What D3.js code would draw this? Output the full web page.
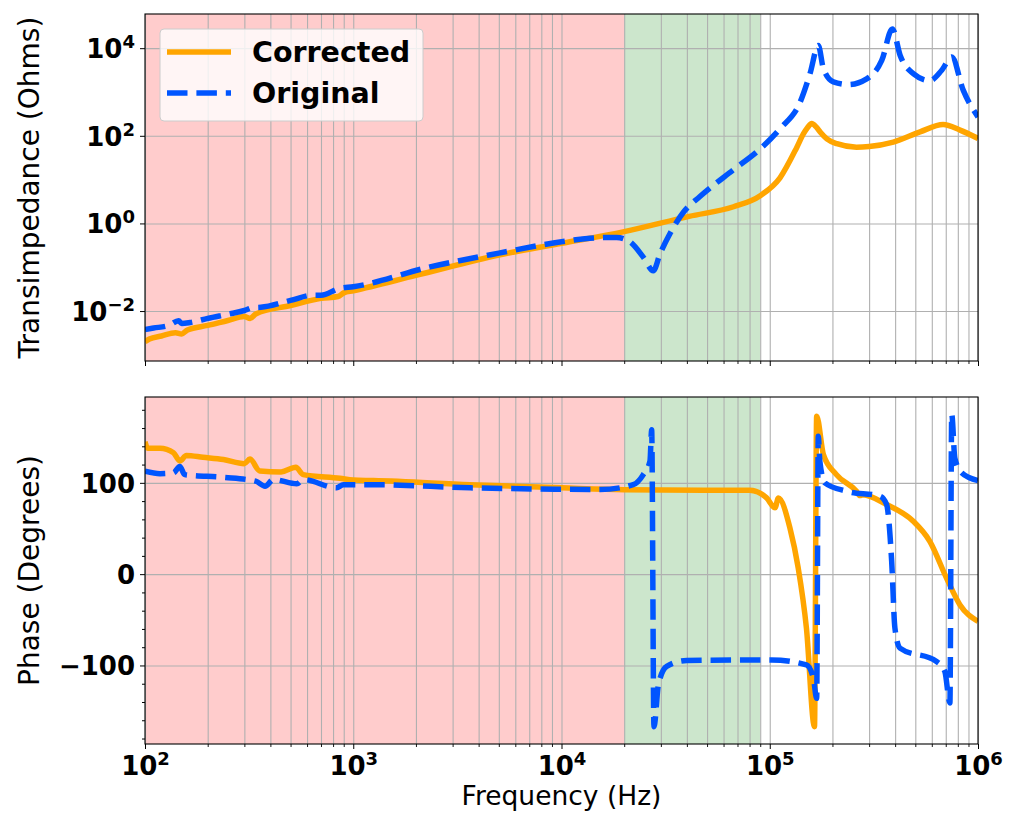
<!DOCTYPE html>
<html>
<head>
<meta charset="utf-8">
<script src="https://cdn.jsdelivr.net/npm/d3@7"></script>
<style>
body { margin: 0; background: #fff; }
text { font-family: 'DejaVu Sans', sans-serif; }
</style>
</head>
<body>
<svg id="wrapper" width="1016" height="816"></svg>
<script>
// values (frequency in Hz)
var corrMagFreq = [100, 105, 120, 140, 150, 160, 200, 250, 300, 320, 340, 500, 700, 845, 900, 1000, 2000, 5000, 1e4, 2e4, 4.1e4, 6.7e4, 9e4, 1.12e5, 1.35e5, 1.45e5, 1.52e5, 1.59e5, 1.67e5, 1.75e5, 1.88e5, 2.1e5, 2.61e5, 3.0e5, 3.92e5, 5.27e5, 6.8e5, 8.2e5, 1e6]
var corrMag = [0.0020, 0.0023, 0.0027, 0.0032, 0.0030, 0.0037, 0.0047, 0.0061, 0.0075, 0.0068, 0.0086, 0.0134, 0.0195, 0.0215, 0.026, 0.029, 0.065, 0.19, 0.35, 0.65, 1.45, 2.4, 4.3, 11, 55, 110, 155, 190, 160, 120, 85, 66, 55, 57, 72, 123, 180, 135, 87]

var origMagFreq = [100, 110, 130, 145, 150, 165, 200, 260, 300, 330, 360, 500, 640, 700, 860, 1000, 2340, 5000, 1e4, 1.37e4, 1.84e4, 2.13e4, 2.47e4, 2.76e4, 2.97e4, 3.32e4, 3.85e4, 4.62e4, 6.68e4, 8.9e4, 1.12e5, 1.4e5, 1.56e5, 1.71e5, 1.81e5, 2.02e5, 2.38e5, 2.92e5, 3.45e5, 3.88e5, 4.23e5, 4.89e5, 5.87e5, 6.68e5, 7.48e5, 8.49e5, 1e6]
var origMag = [0.0038, 0.0041, 0.0047, 0.0060, 0.0052, 0.0055, 0.0068, 0.0088, 0.0103, 0.012, 0.0122, 0.0175, 0.023, 0.023, 0.033, 0.036, 0.102, 0.21, 0.38, 0.46, 0.48, 0.38, 0.17, 0.083, 0.2, 0.59, 1.8, 4.1, 16.6, 48, 145, 590, 2600, 11500, 3400, 1700, 1480, 2000, 5250, 27500, 6800, 2630, 1820, 3090, 6300, 1100, 270]

var corrPhFreq = [100, 103, 118, 137, 147, 158, 190, 238, 300, 319, 356, 450, 530, 575, 863, 1000, 1250, 3640, 1e4, 2e4, 5e4, 8e4, 9.66e4, 1.06e5, 1.1e5, 1.25e5, 1.37e5, 1.5e5, 1.64e5, 1.68e5, 1.81e5, 2.09e5, 2.61e5, 2.71e5, 2.8e5, 3.64e5, 4.89e5, 5.87e5, 7.06e5, 8.18e5, 1e6]
var corrPhase = [145, 138, 138, 133, 124, 130, 128, 125.5, 121, 126, 113, 112, 117, 109, 105, 103, 102.5, 98, 94.5, 92.5, 92, 91.9, 83.5, 72.6, 83.5, 50.6, 6.7, -59, -167, 173, 131, 109, 90.8, 86, 87, 76.2, 57.9, 35.9, -4.3, -33.4, -51.7]

var origPhFreq = [100, 118, 137, 147, 155, 238, 340, 377, 413, 536, 575, 832, 895, 1250, 3640, 1e4, 1.53e4, 2.21e4, 2.47e4, 2.66e4, 2.71e4, 2.78e4, 2.92e4, 3.2e4, 3.99e4, 1.02e5, 1.5e5, 1.62e5, 1.68e5, 1.71e5, 1.74e5, 1.84e5, 2.34e5, 3.38e5, 3.64e5, 3.85e5, 3.99e5, 4.22e5, 6.32e5, 6.93e5, 7.33e5, 7.48e5, 7.74e5, 8.34e5, 1e6]
var origPhase = [112.7, 110, 111, 118, 109, 106, 101.8, 96.3, 103.6, 98.9, 103.6, 94.5, 98, 98, 94.5, 93, 92.6, 98, 109, 123.7, 158, -167, -121, -101, -94.5, -93.9, -99.4, -114, -136, 151, 123.7, 100, 90.8, 85.3, 76.2, 14, -59, -81, -95.6, -106.6, -141, 175, 127, 111, 102.5]

var spanRed = [1e2, 2e4]
var spanGreen = [2e4, 9e4]
var xMajor = [1e2, 1e3, 1e4, 1e5, 1e6]
var magMajor = [1e-2, 1e0, 1e2, 1e4]
var phMajor = [-100, 0, 100]
var seriesNames = ['Corrected', 'Original']

var orange = '#ffa500'
var blue = '#0055ff'

var svg = d3.select('#wrapper')

var left = 145, right = 978
var magTop = 14, magBottom = 361
var phTop = 397, phBottom = 744

var xScale = d3.scaleLog().domain([1e2, 1e6]).range([left, right])
var magScale = d3.scaleLog().domain([Math.pow(10, -3.14), Math.pow(10, 4.78)]).range([magBottom, magTop])
var phScale = d3.scaleLinear().domain([-186, 194]).range([phBottom, phTop])

// minor x ticks 2..9 per decade
var xMinor = []
xMajor.slice(0, -1).forEach(dec => {
    for (var m = 2; m <= 9; m++) xMinor.push(m * dec)
})
var phMinor = d3.range(-180, 181, 20).filter(v => v % 100 != 0)

var supers = { '-2': '\u22122', '0': '0', '2': '2', '3': '3', '4': '4', '5': '5', '6': '6' }

var drawPanel = (top, bottom, yScale, yMajor, clipId) => {
    var g = svg.append('g')

    g.append('clipPath').attr('id', clipId)
        .append('rect')
        .attr('x', left).attr('y', top)
        .attr('width', right - left).attr('height', bottom - top)

    // shaded spans
    g.append('rect')
        .attr('x', xScale(spanRed[0])).attr('y', top)
        .attr('width', xScale(spanRed[1]) - xScale(spanRed[0]))
        .attr('height', bottom - top)
        .attr('fill', '#ffcccc')
    g.append('rect')
        .attr('x', xScale(spanGreen[0])).attr('y', top)
        .attr('width', xScale(spanGreen[1]) - xScale(spanGreen[0]))
        .attr('height', bottom - top)
        .attr('fill', '#cce6cc')

    // grid: x major + minor, y major
    var xGrid = g.append('g')
        .attr('transform', 'translate(0,' + bottom + ')')
        .call(d3.axisBottom(xScale).tickValues(xMajor.concat(xMinor)).tickSize(-(bottom - top)).tickFormat(''))
    xGrid.select('.domain').remove()
    xGrid.selectAll('line').attr('stroke', '#b0b0b0').attr('stroke-width', 1.1)

    var yGrid = g.append('g')
        .attr('transform', 'translate(' + left + ',0)')
        .call(d3.axisLeft(yScale).tickValues(yMajor).tickSize(-(right - left)).tickFormat(''))
    yGrid.select('.domain').remove()
    yGrid.selectAll('line').attr('stroke', '#b0b0b0').attr('stroke-width', 1.1)

    // x tick marks on the bottom spine
    var xMin = g.append('g')
        .attr('transform', 'translate(0,' + bottom + ')')
        .call(d3.axisBottom(xScale).tickValues(xMinor).tickSize(3).tickFormat(''))
    xMin.select('.domain').remove()
    xMin.selectAll('line').attr('stroke', '#000').attr('stroke-width', 0.9)

    return g
}

var magPanel = drawPanel(magTop, magBottom, magScale, magMajor, 'clipMag')
var phPanel = drawPanel(phTop, phBottom, phScale, phMajor, 'clipPh')

var makeLine = (yScale) => d3.line()
    .x(d => xScale(d[0]))
    .y(d => yScale(d[1]))
    .curve(d3.curveMonotoneX)

var drawSeries = (panel, clipId, yScale, freq, vals, color, dashed) => {
    panel.append('path')
        .datum(d3.zip(freq, vals))
        .attr('clip-path', 'url(#' + clipId + ')')
        .attr('fill', 'none')
        .attr('stroke', color)
        .attr('stroke-width', 5.5)
        .attr('stroke-linejoin', 'round')
        .attr('stroke-dasharray', dashed ? '20.5,8.9' : null)
        .attr('d', makeLine(yScale))
}

drawSeries(magPanel, 'clipMag', magScale, corrMagFreq, corrMag, orange, false)
drawSeries(magPanel, 'clipMag', magScale, origMagFreq, origMag, blue, true)
drawSeries(phPanel, 'clipPh', phScale, corrPhFreq, corrPhase, orange, false)
drawSeries(phPanel, 'clipPh', phScale, origPhFreq, origPhase, blue, true)

// frames
;[[magTop, magBottom], [phTop, phBottom]].forEach(p => {
    svg.append('rect')
        .attr('x', left).attr('y', p[0])
        .attr('width', right - left).attr('height', p[1] - p[0])
        .attr('fill', 'none').attr('stroke', '#000').attr('stroke-width', 1.1)
})

// major x tick marks (top panel, no labels)
var topX = svg.append('g')
    .attr('transform', 'translate(0,' + magBottom + ')')
    .call(d3.axisBottom(xScale).tickValues(xMajor).tickSize(5).tickFormat(''))
topX.select('.domain').remove()

// bottom x axis with power labels
var botX = svg.append('g')
    .attr('transform', 'translate(0,' + phBottom + ')')
    .call(d3.axisBottom(xScale).tickValues(xMajor).tickSize(5).tickPadding(8))
botX.select('.domain').remove()
botX.attr('font-size', 26).attr('font-family', 'DejaVu Sans').attr('font-weight', 'bold')
botX.selectAll('.tick text').each(function (d) {
    var t = d3.select(this)
    var e = Math.round(Math.log10(d))
    t.text('')
    t.append('tspan').text('10')
    t.append('tspan').attr('dy', -10).attr('font-size', 18).text(supers[e])
})

// magnitude y axis
var magY = svg.append('g')
    .attr('transform', 'translate(' + left + ',0)')
    .call(d3.axisLeft(magScale).tickValues(magMajor).tickSize(5).tickPadding(5))
magY.select('.domain').remove()
magY.attr('font-size', 26).attr('font-family', 'DejaVu Sans').attr('font-weight', 'bold')
magY.selectAll('.tick text').attr('dy', '0.36em').each(function (d) {
    var t = d3.select(this)
    var e = Math.round(Math.log10(d))
    t.text('')
    t.append('tspan').text('10')
    t.append('tspan').attr('dy', -10).attr('font-size', 18).text(supers[e])
})

// phase y axis
var phY = svg.append('g')
    .attr('transform', 'translate(' + left + ',0)')
    .call(d3.axisLeft(phScale).tickValues(phMajor).tickSize(5).tickPadding(5)
        .tickFormat(d => d < 0 ? '\u2212' + Math.abs(d) : '' + d))
phY.select('.domain').remove()
phY.attr('font-size', 26).attr('font-family', 'DejaVu Sans').attr('font-weight', 'bold')
phY.selectAll('.tick text').attr('dy', '0.36em')

var phYMinor = svg.append('g')
    .attr('transform', 'translate(' + left + ',0)')
    .call(d3.axisLeft(phScale).tickValues(phMinor).tickSize(3).tickFormat(''))
phYMinor.select('.domain').remove()

// axis titles
svg.append('text')
    .attr('transform', 'translate(39,' + (magTop + magBottom) / 2 + ') rotate(-90)')
    .attr('text-anchor', 'middle')
    .style('font-size', '28px')
    .text('Transimpedance (Ohms)')

svg.append('text')
    .attr('transform', 'translate(39,' + (phTop + phBottom) / 2 + ') rotate(-90)')
    .attr('text-anchor', 'middle')
    .style('font-size', '28px')
    .text('Phase (Degrees)')

svg.append('text')
    .attr('x', (left + right) / 2)
    .attr('y', 805)
    .attr('text-anchor', 'middle')
    .style('font-size', '26.5px')
    .text('Frequency (Hz)')

// legend
var legend = svg.append('g')
legend.append('rect')
    .attr('x', 160).attr('y', 29)
    .attr('width', 263).attr('height', 92)
    .attr('rx', 4)
    .attr('fill', '#fff').attr('fill-opacity', 0.8)
    .attr('stroke', '#cccccc').attr('stroke-width', 1)

legend.selectAll('line')
    .data(seriesNames)
    .join('line')
    .attr('x1', 167).attr('x2', 231)
    .attr('y1', (d, i) => 52 + i * 41)
    .attr('y2', (d, i) => 52 + i * 41)
    .attr('stroke', (d, i) => i == 0 ? orange : blue)
    .attr('stroke-width', 5.5)
    .attr('stroke-dasharray', (d, i) => i == 0 ? null : '20.5,8.9')

legend.selectAll('text')
    .data(seriesNames)
    .join('text')
    .attr('x', 252)
    .attr('y', (d, i) => 62 + i * 41)
    .style('font-size', '28.5px')
    .style('font-weight', 'bold')
    .text(d => d)
</script>
</body>
</html>
